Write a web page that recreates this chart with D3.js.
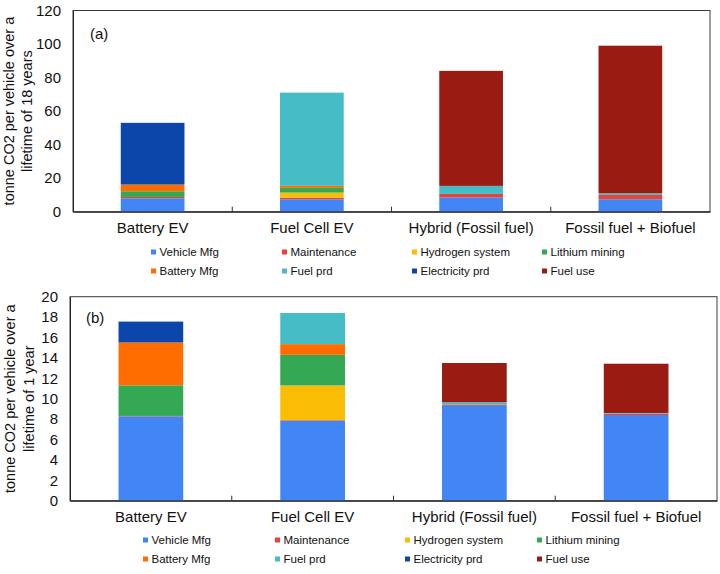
<!DOCTYPE html>
<html><head><meta charset="utf-8">
<script src="https://cdn.jsdelivr.net/npm/d3@7"></script>
<style>body{margin:0;background:#fff}svg{display:block;font-family:"Liberation Sans",Arial,Helvetica,sans-serif}</style>
</head><body><svg id="c" width="720" height="574"></svg>
<script>
const categories = ["Battery EV","Fuel Cell EV","Hybrid (Fossil fuel)","Fossil fuel + Biofuel"];
const seriesNames = ["Vehicle Mfg","Maintenance","Hydrogen system","Lithium mining","Battery Mfg","Fuel prd","Electricity prd","Fuel use"];
const seriesColors = ["#4285F4","#EA4335","#FBBC04","#34A853","#FF6D01","#46BDC6","#0B47AA","#9A1B11"];

// (a) lifetime of 18 years
const vehicleMfg18  = [8.0, 7.4, 8.6, 7.4];
const maintenance18 = [0.8, 1.0, 2.0, 2.6];
const hydrogen18    = [0, 3.0, 0, 0];
const lithium18     = [3.4, 2.8, 0, 0];
const batteryMfg18  = [4.0, 1.2, 0, 0];
const fuelPrd18     = [0, 55.6, 4.8, 1.0];
const electricity18 = [36.8, 0, 0, 0];
const fuelUse18     = [0, 0, 68.6, 88.0];
const ticks18 = [0,20,40,60,80,100,120];

// (b) lifetime of 1 year
const vehicleMfg1  = [8.27, 7.85, 9.3, 8.4];
const maintenance1 = [0.04, 0.05, 0.1, 0.14];
const hydrogen1    = [0, 3.4, 0, 0];
const lithium1     = [3.0, 3.0, 0, 0];
const batteryMfg1  = [4.2, 1.05, 0, 0];
const fuelPrd1     = [0, 3.05, 0.26, 0.06];
const electricity1 = [2.05, 0, 0, 0];
const fuelUse1     = [0, 0, 3.84, 4.83];
const ticks1 = [0,2,4,6,8,10,12,14,16,18,20];

const svg = d3.select("#c");

function drawChart(cfg){
  const series = cfg.series;
  const table = categories.map((c,i)=>{
    const o={cat:c};
    seriesNames.forEach((s,j)=>o[s]=series[j][i]);
    return o;
  });
  const stack = d3.stack().keys(seriesNames)(table);
  const x = d3.scaleBand().domain(categories).range([cfg.left,cfg.right]).paddingInner(0.6).paddingOuter(0.3);
  const y = d3.scaleLinear().domain([0,cfg.max]).range([cfg.bottom,cfg.top]);
  const g = svg.append("g");

  // frame
  g.append("rect").attr("x",cfg.left).attr("y",cfg.top).attr("width",cfg.right-cfg.left).attr("height",cfg.bottom-cfg.top)
    .attr("fill","none").attr("stroke","#3a3a3a").attr("stroke-width",1);

  // bars
  stack.forEach((layer,j)=>{
    g.append("g").attr("fill",seriesColors[j]).selectAll("rect").data(layer).join("rect")
      .attr("x",d=>x(d.data.cat)).attr("width",x.bandwidth())
      .attr("y",d=>y(d[1])).attr("height",d=>Math.max(0,y(d[0])-y(d[1])));
  });

  // y axis
  const ya = g.append("g").attr("transform",`translate(${cfg.left},0)`)
    .call(d3.axisLeft(y).tickValues(cfg.ticks).tickSize(0).tickPadding(12));
  ya.select(".domain").attr("stroke","#222");
  ya.selectAll("text").attr("font-size",15).attr("fill","#111").attr("font-family",'"Liberation Sans",Arial,sans-serif');

  // x axis
  const xa = g.append("g").attr("transform",`translate(0,${cfg.bottom})`)
    .call(d3.axisBottom(x).tickSize(0).tickPadding(cfg.catPad));
  xa.select(".domain").attr("stroke","#222").attr("stroke-width",1.3);
  xa.selectAll("text").attr("font-size",15).attr("fill","#111").attr("font-family",'"Liberation Sans",Arial,sans-serif');
  // category separator ticks
  const step = x.step();
  const bounds = d3.range(1,categories.length).map(i=>x(categories[i]) - x.paddingInner()*step/2);
  g.selectAll("line.sep").data(bounds).join("line").attr("class","sep")
    .attr("x1",d=>d).attr("x2",d=>d).attr("y1",cfg.bottom).attr("y2",cfg.bottom-5)
    .attr("stroke","#333").attr("stroke-width",1);

  // panel label
  g.append("text").attr("x",cfg.panelX).attr("y",cfg.panelY).attr("font-size",15).attr("fill","#111")
    .attr("dominant-baseline","central").text(cfg.panel);

  // y title
  const cy = (cfg.top+cfg.bottom)/2;
  cfg.title.forEach((t,i)=>{
    g.append("text").attr("transform",`translate(${cfg.titleX[i]},${cy}) rotate(-90)`)
      .attr("text-anchor","middle").attr("dominant-baseline","central")
      .attr("font-size",14.5).attr("fill","#111").text(t);
  });

  // legend
  seriesNames.forEach((s,j)=>{
    const col=j%4,row=Math.floor(j/4);
    const lx=cfg.legX[col], ly=cfg.legY[row];
    g.append("rect").attr("x",lx).attr("y",ly-2.5).attr("width",5).attr("height",5).attr("fill",seriesColors[j]);
    g.append("text").attr("x",lx+8.5).attr("y",ly).attr("dominant-baseline","central")
      .attr("font-size",11.5).attr("fill","#111").text(s);
  });
}

drawChart({series:[vehicleMfg18,maintenance18,hydrogen18,lithium18,batteryMfg18,fuelPrd18,electricity18,fuelUse18],
  left:73,right:710,top:10.5,bottom:211.7,max:120,ticks:ticks18,catPad:11,
  panel:"(a)",panelX:90,panelY:33,
  title:["tonne CO2 per vehicle over a","lifetime of 18 years"],titleX:[9,27],
  legX:[151,282,412,542],legY:[252,271]});

drawChart({series:[vehicleMfg1,maintenance1,hydrogen1,lithium1,batteryMfg1,fuelPrd1,electricity1,fuelUse1],
  left:70,right:717,top:296.7,bottom:500.7,max:20,ticks:ticks1,catPad:11,
  panel:"(b)",panelX:86,panelY:317,
  title:["tonne CO2 per vehicle over a","lifetime of 1 year"],titleX:[10,29],
  legX:[143,275,405,537],legY:[540,559]});
</script></body></html>
